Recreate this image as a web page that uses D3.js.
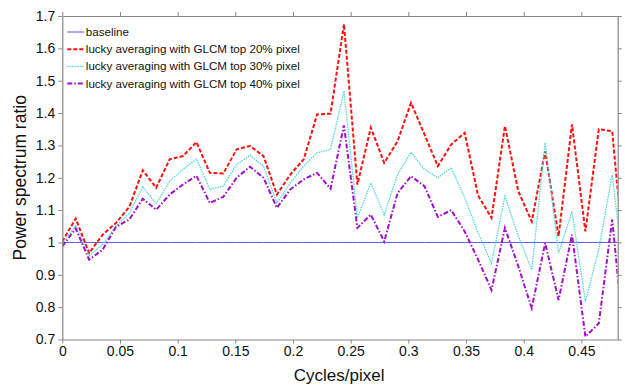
<!DOCTYPE html>
<html>
<head>
<meta charset="utf-8">
<script src="https://cdn.jsdelivr.net/npm/d3@7"></script>
<style>
  body { margin: 0; background: #fff; }
  svg { display: block; font-family: "Liberation Sans", Arial, sans-serif; }
</style>
</head>
<body>
<div id="chart"></div>
<script>
// Data (frequency step 1/86 cycles/pixel)
const freqs = d3.range(43).map(i => i / 86);

const top20 = [1.003, 1.074, 0.967, 1.024, 1.060, 1.110, 1.223, 1.169, 1.257, 1.267,
  1.310, 1.215, 1.213, 1.288, 1.298, 1.267, 1.148, 1.210, 1.257, 1.396,
  1.398, 1.675, 1.179, 1.355, 1.246, 1.313, 1.432, 1.334, 1.236, 1.303,
  1.339, 1.145, 1.076, 1.360, 1.158, 1.065, 1.282, 1.019, 1.365, 1.034,
  1.350, 1.344, 0.898];

const top30 = [0.996, 1.052, 0.959, 0.993, 1.050, 1.091, 1.172, 1.120, 1.189, 1.226,
  1.258, 1.164, 1.174, 1.241, 1.269, 1.236, 1.122, 1.184, 1.236, 1.277,
  1.288, 1.468, 1.076, 1.184, 1.086, 1.210, 1.279, 1.226, 1.200, 1.231,
  1.138, 1.030, 0.936, 1.143, 1.020, 0.915, 1.308, 0.967, 1.096, 0.817,
  0.978, 1.210, 0.855];

const top40 = [0.988, 1.043, 0.947, 0.977, 1.048, 1.071, 1.135, 1.101, 1.148, 1.179,
  1.206, 1.122, 1.141, 1.200, 1.234, 1.200, 1.107, 1.164, 1.195, 1.215,
  1.166, 1.362, 1.045, 1.086, 1.003, 1.153, 1.205, 1.174, 1.079, 1.100,
  1.034, 0.947, 0.853, 1.045, 0.926, 0.797, 0.998, 0.822, 1.024, 0.709,
  0.750, 1.071, 0.645];

const baseline = freqs.map(() => 1);

const xTicks = [0, 0.05, 0.1, 0.15, 0.2, 0.25, 0.3, 0.35, 0.4, 0.45];
const yTicks = [0.7, 0.8, 0.9, 1, 1.1, 1.2, 1.3, 1.4, 1.5, 1.6, 1.7];

const seriesNames = [
  "baseline",
  "lucky averaging with GLCM top 20% pixel",
  "lucky averaging with GLCM top 30% pixel",
  "lucky averaging with GLCM top 40% pixel"
];

const width = 625;
const height = 385;
const margin = { top: 16, right: 7.3, bottom: 45.5, left: 62.3 };
const innerW = width - margin.left - margin.right;
const innerH = height - margin.top - margin.bottom;

const svg = d3.select("#chart").append("svg")
  .attr("width", width)
  .attr("height", height);

const x = d3.scaleLinear().domain([0, 0.4815]).range([0, innerW]);
const y = d3.scaleLinear().domain([0.7, 1.7]).range([innerH, 0]);

const g = svg.append("g").attr("transform", `translate(${margin.left},${margin.top})`);

g.append("clipPath").attr("id", "plotclip")
  .append("rect").attr("width", innerW).attr("height", innerH);

// styles for each series
const styles = [
  { data: baseline, color: "#5a5ae0", width: 1, dash: null },
  { data: top20, color: "#ff1010", width: 2, dash: "4,2" },
  { data: top30, color: "#4fd8dc", width: 1.3, dash: "1.5,1" },
  { data: top40, color: "#a010c8", width: 2, dash: "5,2,1.5,2" }
];

const line = d3.line()
  .x((d, i) => x(freqs[i]))
  .y(d => y(d));

const plot = g.append("g").attr("clip-path", "url(#plotclip)");

styles.forEach(s => {
  plot.append("path")
    .datum(s.data)
    .attr("fill", "none")
    .attr("stroke", s.color)
    .attr("stroke-width", s.width)
    .attr("stroke-dasharray", s.dash)
    .attr("stroke-linejoin", "miter")
    .attr("d", line);
});

// axes
const fmt = d => d3.format("")(+d.toFixed(2));

function styleAxis(sel) {
  sel.select(".domain").attr("stroke", "#888").attr("stroke-width", 1.2);
  sel.selectAll(".tick line").attr("stroke", "#888");
  sel.selectAll(".tick text")
    .attr("fill", "#111")
    .style("font-size", "14px")
    .style("font-family", "'Liberation Sans', Arial, sans-serif");
}

g.append("g")
  .attr("transform", `translate(0,${innerH})`)
  .call(d3.axisBottom(x).tickValues(xTicks).tickFormat(fmt).tickSize(4).tickSizeOuter(0).tickPadding(3))
  .call(styleAxis);

g.append("g")
  .call(d3.axisLeft(y).tickValues(yTicks).tickFormat(fmt).tickSize(4).tickSizeOuter(0).tickPadding(3))
  .call(styleAxis);

g.append("g")
  .call(d3.axisTop(x).tickValues(xTicks).tickFormat("").tickSize(4).tickSizeOuter(0))
  .call(styleAxis);

g.append("g")
  .attr("transform", `translate(${innerW},0)`)
  .call(d3.axisRight(y).tickValues(yTicks).tickFormat("").tickSize(4).tickSizeOuter(0))
  .call(styleAxis);

// axis titles
svg.append("text")
  .attr("x", margin.left + x(0.24))
  .attr("y", 380.5)
  .attr("text-anchor", "middle")
  .style("font-size", "17px")
  .attr("fill", "#111")
  .text("Cycles/pixel");

svg.append("text")
  .attr("transform", `translate(26,${margin.top + innerH / 2}) rotate(-90)`)
  .attr("text-anchor", "middle")
  .style("font-size", "17.5px")
  .attr("fill", "#111")
  .text("Power spectrum ratio");

// legend
const legend = g.append("g").attr("transform", "translate(5,16)");
seriesNames.forEach((name, i) => {
  const s = styles[i];
  const row = legend.append("g").attr("transform", `translate(0,${i * 17.2})`);
  row.append("line")
    .attr("x1", 0).attr("x2", 17)
    .attr("stroke", s.color)
    .attr("stroke-width", s.width)
    .attr("stroke-dasharray", s.dash);
  row.append("text")
    .attr("x", 18.5)
    .attr("dy", "0.35em")
    .style("font-size", "11.6px")
    .attr("fill", "#111")
    .text(name);
});
</script>
</body>
</html>
